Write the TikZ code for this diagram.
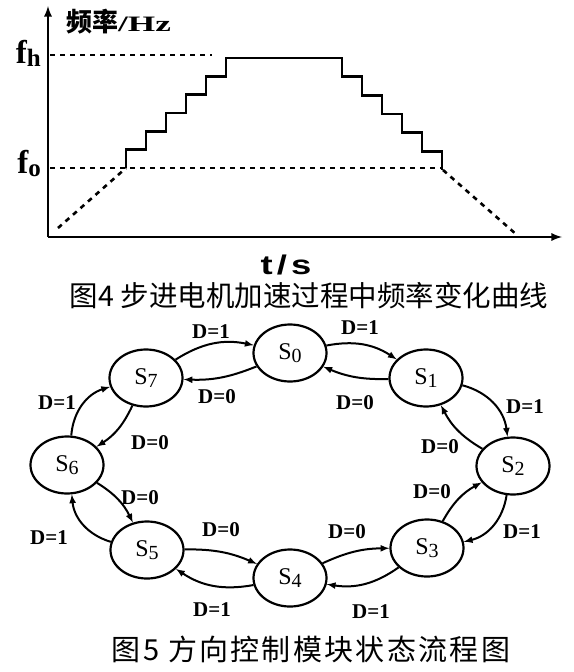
\documentclass[tikz,border=0pt]{standalone}
\usepackage{fontspec}
\setmainfont{Liberation Serif}
\setsansfont{Liberation Sans}
\newfontfamily\cjk{Noto Sans CJK SC}
\newfontfamily\cjkwide{Noto Sans CJK SC}[LetterSpace=8]
\usetikzlibrary{arrows}
\usetikzlibrary{shapes.geometric, math}
\newcommand{\lowsub}[2][18]{\raisebox{-3pt}{\fontsize{#1}{#1}\selectfont #2}}

\tikzset{
  state/.style={ellipse, draw, line width=2.2, minimum width=73, minimum height=57,
    inner sep=0pt, font=\fontsize{24}{26}\selectfont},
  lbl/.style={inner sep=0pt, font=\bfseries\fontsize{21}{22}\selectfont},
  trans/.style={-latex, line width=2},
  axis/.style={-latex, line width=2.6},
  guide/.style={dash pattern=on 5pt off 5pt, line width=2.6},
}

\begin{document}
\begin{tikzpicture}[x=1pt, y=-1pt]
\tikzmath{
\xa=126; \ya=168; % start of the staircase at f0
\run=20; \rise=110/6;
\xd=342; \drop=112/6;
}
\useasboundingbox (0,0) rectangle (573,672);

% frequency curve
\coordinate (O) at (48,237);
\coordinate (Ytop) at (48,6);
\coordinate (Xend) at (562,237);
\draw[axis] (O) -- (Ytop);
\draw[axis] (O) -- (Xend);
\node[anchor=west, inner sep=0pt] (yl) at (66,22)
  {\cjk\bfseries\fontsize{26}{26}\selectfont 频率\scalebox{1.6}[1]{\rmfamily\bfseries\fontsize{22}{22}\selectfont /Hz}};
\node[anchor=base east, inner sep=0pt] (fh) at (41,63)
  {\bfseries\fontsize{33}{33}\selectfont f\lowsub[25]{\bfseries h}};
\node[anchor=base east, inner sep=0pt] (fo) at (41,173)
  {\bfseries\fontsize{33}{33}\selectfont f\lowsub[25]{\bfseries o}};
\draw[guide] (50,55) -- (212,55);
\draw[guide] (50,168) -- (443,168);
\draw[guide] (58,228) -- (\xa,\ya);
\draw[guide] (443,170) -- (517,235);

\draw[line width=2.8] (\xa,\ya)
  \foreach \k in {0,...,4} { -- ++(0,-\rise) -- ++(\run,0) }
  -- ++(0,-\rise) -- (\xd,\ya-6*\rise)
  \foreach \k in {0,...,4} { -- ++(0,\drop) -- ++(\run,0) }
  -- ++(0,\drop);

\node[inner sep=0pt] (ts) at (286,265)
  {\scalebox{1.35}[1]{\sffamily\bfseries\fontsize{27}{28}\selectfont t\hspace{3pt}/\hspace{3pt}s}};
\node[inner sep=0pt] (cap4) at (309,296)
  {\cjk\fontsize{28.5}{30}\selectfont 图4 步进电机加速过程中频率变化曲线};

% state flow
\node[state] (S0) at (290,353) {S\lowsub[20]{0}};
\node[state] (S1) at (426,378) {S\lowsub[20]{1}};
\node[state] (S2) at (513,466) {S\lowsub[20]{2}};
\node[state] (S3) at (427,548) {S\lowsub[20]{3}};
\node[state] (S4) at (290,578) {S\lowsub[20]{4}};
\node[state] (S5) at (147,550) {S\lowsub[20]{5}};
\node[state] (S6) at (67,465) {S\lowsub[20]{6}};
\node[state] (S7) at (146,378) {S\lowsub[20]{7}};

% D=1 runs round the outside, D=0 back on the inside
\foreach \a/\b/\bo/\bi in {0/1/22/12,1/2/34/16,2/3/34/16,3/4/22/12,
                           4/5/22/12,5/6/34/16,6/7/34/16,7/0/22/12}{
  \draw[trans] (S\a) to[bend left=\bo] (S\b);
  \draw[trans] (S\b) to[bend left=\bi] (S\a);
}

\node[lbl] (d70) at (211,332) {D=1};
\node[lbl] (d07) at (217,397) {D=0};
\node[lbl] (d01) at (360,328) {D=1};
\node[lbl] (d10) at (355,403) {D=0};
\node[lbl] (d12) at (525,407) {D=1};
\node[lbl] (d21) at (440,447) {D=0};
\node[lbl] (d23) at (522,532) {D=1};
\node[lbl] (d32) at (432,492) {D=0};
\node[lbl] (d34) at (371,612) {D=1};
\node[lbl] (d43) at (347,532) {D=0};
\node[lbl] (d45) at (212,610) {D=1};
\node[lbl] (d54) at (221,530) {D=0};
\node[lbl] (d56) at (49,538) {D=1};
\node[lbl] (d65) at (140,498) {D=0};
\node[lbl] (d67) at (57,403) {D=1};
\node[lbl] (d76) at (150,443) {D=0};

\node[inner sep=0pt] (cap5) at (311,649)
  {\cjkwide\fontsize{29}{30}\selectfont 图5 方向控制模块状态流程图};
\end{tikzpicture}
\end{document}
